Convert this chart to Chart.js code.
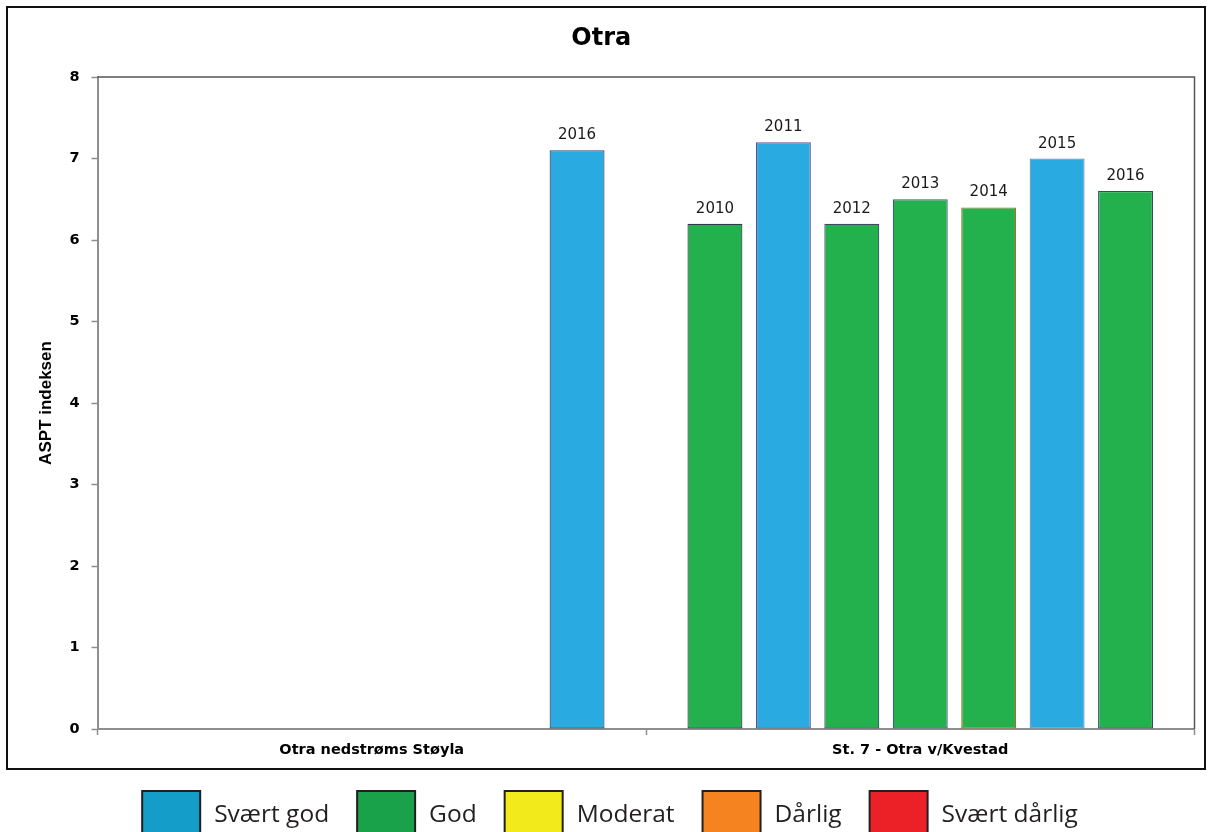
<!DOCTYPE html>
<html lang="no">
<head>
<meta charset="utf-8">
<title>Otra – ASPT indeksen</title>
<script src="https://cdn.jsdelivr.net/npm/chart.js@4/dist/chart.umd.min.js"></script>
<style>
  html, body { margin: 0; padding: 0; background: #ffffff; }
  canvas { display: block; }
</style>
</head>
<body>
<canvas id="chart" width="1212" height="832"></canvas>
<script>
// Stations along Otra
const categories = ['Otra nedstrøms Støyla', 'St. 7 - Otra v/Kvestad'];

// Sampling years (one bar series per year)
const years = ['2010', '2011', '2012', '2013', '2014', '2015', '2016'];

// ASPT index per station, one array per year
const aspt2010 = [null, 6.2];
const aspt2011 = [null, 7.2];
const aspt2012 = [null, 6.2];
const aspt2013 = [null, 6.5];
const aspt2014 = [null, 6.4];
const aspt2015 = [null, 7.0];
const aspt2016 = [7.1, 6.6];

// Ecological status class per bar
const klasse2010 = [null, 'God'];
const klasse2011 = [null, 'Svært god'];
const klasse2012 = [null, 'God'];
const klasse2013 = [null, 'God'];
const klasse2014 = [null, 'God'];
const klasse2015 = [null, 'Svært god'];
const klasse2016 = ['Svært god', 'God'];

// Status classes shown in the legend
const classNames = ['Svært god', 'God', 'Moderat', 'Dårlig', 'Svært dårlig'];
const classLegendColors = ['#139dc8', '#19a24a', '#f3ea1c', '#f58320', '#ec2127'];
const classBarColors = { 'Svært god': '#29abe2', 'God': '#22b14c', 'Moderat': '#f3ea1c', 'Dårlig': '#f58320', 'Svært dårlig': '#ec2127' };

// Outline colour of each year's bars
const yearBorderColors = ['#2e3a4c', '#6a4a8a', '#3a4a62', '#3a5a7a', '#b06a26', '#6a90b8', '#2f4a6a'];

const values = [aspt2010, aspt2011, aspt2012, aspt2013, aspt2014, aspt2015, aspt2016];
const classes = [klasse2010, klasse2011, klasse2012, klasse2013, klasse2014, klasse2015, klasse2016];

const datasets = years.map((y, i) => ({
  label: y,
  data: values[i],
  backgroundColor: classes[i].map(k => k ? classBarColors[k] : 'transparent'),
  borderColor: yearBorderColors[i],
  borderWidth: 1.2,
  borderSkipped: false,
  categoryPercentage: 0.8734,
  barPercentage: 0.803
}));

const AXIS_GRAY = '#8e8e8e';

// White page, outer frame, plot box and the status legend
const framePlugin = {
  id: 'frame',
  beforeDraw(chart) {
    const ctx = chart.ctx;
    ctx.save();
    ctx.fillStyle = '#ffffff';
    ctx.fillRect(0, 0, chart.width, chart.height);
    ctx.restore();
  },
  afterDraw(chart) {
    const ctx = chart.ctx;
    const a = chart.chartArea;
    ctx.save();
    // plot area top and right edges
    ctx.strokeStyle = '#555555';
    ctx.lineWidth = 1.5;
    ctx.beginPath();
    ctx.moveTo(a.left, a.top);
    ctx.lineTo(a.right, a.top);
    ctx.lineTo(a.right, a.bottom);
    ctx.stroke();

    // outer frame around the chart
    ctx.strokeStyle = '#111111';
    ctx.lineWidth = 2;
    ctx.strokeRect(7, 7, 1198, 762);

    // status class legend
    ctx.font = '24.5px "Open Sans"';
    const boxW = 58, boxH = 46, gapText = 14, gapItem = 28;
    const widths = classNames.map(n => ctx.measureText(n).width);
    const total = widths.reduce((s, w) => s + boxW + gapText + w, 0) + gapItem * (classNames.length - 1);
    let x = 610 - total / 2;
    const top = 791;
    classNames.forEach((name, i) => {
      ctx.fillStyle = classLegendColors[i];
      ctx.fillRect(x, top, boxW, boxH);
      ctx.strokeStyle = '#231f20';
      ctx.lineWidth = 2;
      ctx.strokeRect(x, top, boxW, boxH);
      ctx.fillStyle = '#231f20';
      ctx.textBaseline = 'alphabetic';
      ctx.textAlign = 'left';
      ctx.fillText(name, x + boxW + gapText, 822);
      x += boxW + gapText + widths[i] + gapItem;
    });
    ctx.restore();
  }
};

// Year label above every bar
const yearLabelPlugin = {
  id: 'yearLabels',
  afterDatasetsDraw(chart) {
    const ctx = chart.ctx;
    ctx.save();
    ctx.font = '15px "DejaVu Sans"';
    ctx.fillStyle = '#1a1a1a';
    ctx.textAlign = 'center';
    ctx.textBaseline = 'alphabetic';
    chart.data.datasets.forEach((ds, i) => {
      const meta = chart.getDatasetMeta(i);
      meta.data.forEach((bar, j) => {
        if (ds.data[j] == null) return;
        ctx.fillText(ds.label, bar.x, bar.y - 11);
      });
    });
    ctx.restore();
  }
};

new Chart(document.getElementById('chart'), {
  type: 'bar',
  data: { labels: categories, datasets },
  plugins: [framePlugin, yearLabelPlugin],
  options: {
    responsive: false,
    animation: false,
    layout: { padding: { left: 8, right: 17.5, top: 0, bottom: 62 } },
    plugins: {
      legend: { display: false },
      tooltip: { enabled: false },
      title: {
        display: true,
        text: 'Otra',
        color: '#000000',
        font: { family: '"DejaVu Sans"', weight: 'bold', size: 24 },
        padding: { top: 24, bottom: 24.2 }
      }
    },
    scales: {
      x: {
        afterFit(scale) { scale.height = 41; },
        grid: {
          offset: true,
          drawOnChartArea: false,
          drawTicks: true,
          tickLength: 6,
          tickColor: AXIS_GRAY,
          tickWidth: 1.5
        },
        border: { display: true, color: AXIS_GRAY, width: 2 },
        ticks: {
          color: '#000000',
          font: { family: '"DejaVu Sans"', weight: 'bold', size: 14.5 },
          padding: 7,
          maxRotation: 0,
          autoSkip: false
        }
      },
      y: {
        min: 0,
        max: 8,
        afterFit(scale) { scale.width = 89.5; },
        grid: {
          drawOnChartArea: false,
          drawTicks: true,
          tickLength: 6,
          tickColor: AXIS_GRAY,
          tickWidth: 1.5
        },
        border: { display: true, color: AXIS_GRAY, width: 2 },
        ticks: {
          stepSize: 1,
          color: '#000000',
          font: { family: '"DejaVu Sans"', weight: 'bold', size: 14.5 },
          padding: 12
        },
        title: {
          display: true,
          text: 'ASPT indeksen',
          color: '#000000',
          font: { family: '"Liberation Sans"', weight: 'bold', size: 17 },
          padding: { top: 28.5, bottom: 0 }
        }
      }
    }
  }
});
</script>
</body>
</html>
